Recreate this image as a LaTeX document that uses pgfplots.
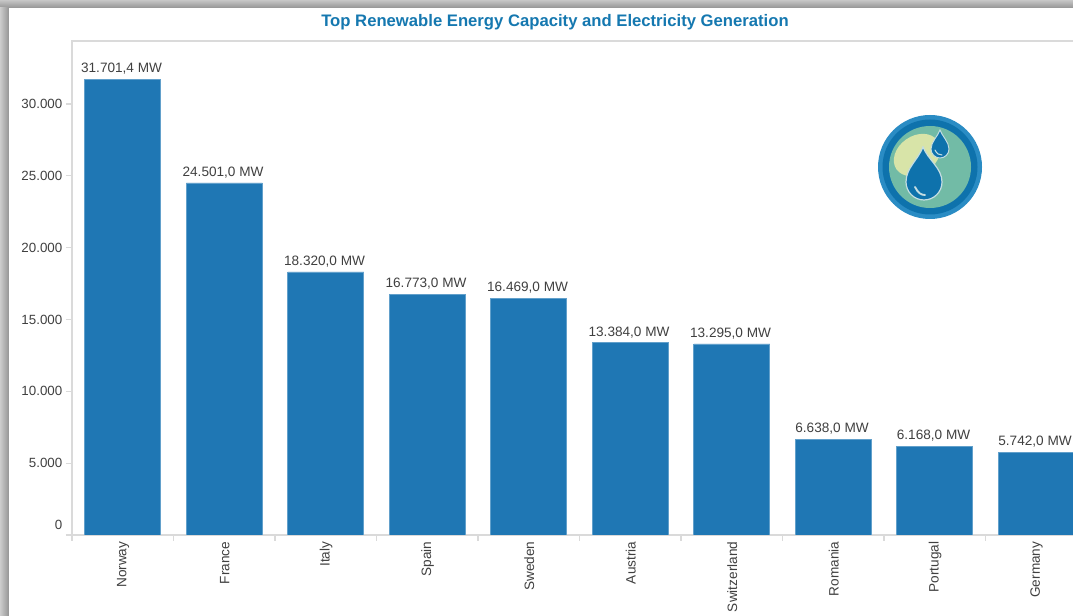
\documentclass[border=0pt]{standalone}
\usepackage{pgfplots}
\pgfplotsset{compat=1.18}
\usepackage{fontspec}
\setmainfont{Liberation Sans}
\definecolor{barblue}{HTML}{1F77B4}
\definecolor{titleblue}{HTML}{1578B0}
\definecolor{axisgrey}{HTML}{DADADA}
\definecolor{labelgrey}{HTML}{404040}
\definecolor{ringout}{HTML}{2A8CC4}
\definecolor{ringin}{HTML}{0E72AC}
\definecolor{dropfill}{HTML}{0E72AC}
\definecolor{discgreen}{HTML}{72BBA6}
\definecolor{paleyellow}{HTML}{D8E4A8}
\definecolor{dropedge}{HTML}{C4DDE2}
\pgfplotstableread{
idx capacity
0 31701.4
1 24501.0
2 18320.0
3 16773.0
4 16469.0
5 13384.0
6 13295.0
7 6638.0
8 6168.0
9 5742.0
}\capacitytable
\begin{document}
\begin{tikzpicture}
\useasboundingbox (0pt,0pt) rectangle (804.75pt,462pt);
\clip (0pt,0pt) rectangle (804.75pt,462pt);
\begin{scope}[x=0.75pt,y=0.75pt]
\fill[white] (0,0) rectangle (1073,616);
% panel shadow along the top and left edges
\shade[bottom color=black!42,top color=black!22] (0,608) rectangle (1073,616);
\shade[left color=black!20,right color=black!42] (0,0) rectangle (9,608);
\fill[white] (9,0) rectangle (1073,608);
\end{scope}
\begin{axis}[
  at={(54pt,60.75pt)},anchor=south west,
  scale only axis,
  width=756pt,height=370.5pt,
  xmin=-0.5,xmax=9.431,
  ymin=0,ymax=34385,
  axis lines=box,
  axis line style={axisgrey,line width=0.8pt},
  ybar,bar width=57pt,
  scaled y ticks=false,
  xtick={-0.5,0.5,1.5,2.5,3.5,4.5,5.5,6.5,7.5,8.5},
  xticklabels={},
  extra x ticks={0,...,9},
  extra x tick labels={Norway,France,Italy,Spain,Sweden,Austria,Switzerland,Romania,Portugal,Germany},
  extra x tick style={major tick length=0pt,
    xticklabel style={yshift=-1.5pt,xshift=0.3pt,rotate=90,anchor=east,font=\fontsize{10.2pt}{12pt}\selectfont,text=labelgrey}},
  x tick style={axisgrey,line width=0.8pt},
  xtick pos=bottom,
  ytick={5000,10000,15000,20000,25000,30000},
  yticklabels={5.000,10.000,15.000,20.000,25.000,30.000},
  ytick pos=left,
  y tick style={axisgrey,line width=0.8pt},
  major tick length=4.5pt,
  tick align=outside,
  yticklabel style={font=\fontsize{10pt}{12pt}\selectfont,text=labelgrey,inner xsep=2pt,xshift=-0.6pt},
  extra y ticks={0},
  extra y tick labels={0},
  extra y tick style={yticklabel style={yshift=7.5pt}},
  nodes near coords={\pgfmathprintnumber[fixed,fixed zerofill,precision=1,1000 sep={.},dec sep={,},assume math mode=true]{\pgfplotspointmeta} MW},
  nodes near coords style={font=\fontsize{10.2pt}{12pt}\selectfont,text=labelgrey,inner sep=0pt,above,yshift=3.5pt,xshift=-0.9pt},
  point meta=explicit,
  clip mode=individual,
  /pgf/number format/assume math mode=true,
]
\addplot[fill=barblue,draw=barblue!70!white,line width=0.4pt,bar shift=0pt] table[x=idx,y=capacity,meta=capacity] {\capacitytable};
\end{axis}
\begin{scope}[x=0.75pt,y=0.75pt]
\node[font=\bfseries\fontsize{12.5pt}{14pt}\selectfont,text=titleblue] at (555,593.5) {Top Renewable Energy Capacity and Electricity Generation};
% hydro power badge
\fill[ringout] (930,449) circle (52);
\fill[ringin] (930,449) circle (47.5);
\fill[discgreen] (930,449) circle (41);
\begin{scope}
\clip (930,449) circle (41);
\fill[paleyellow,rotate around={35:(917,461)}] (917,461) ellipse (25 and 19);
\end{scope}
\filldraw[fill=dropfill,draw=dropedge,line width=0.9pt]
  (923,469) .. controls (918,456) and (906,448) .. (906,434)
  arc[start angle=180,end angle=360,radius=18]
  .. controls (942,448) and (928,456) .. (923,469) -- cycle;
\draw[dropedge,line width=1.4pt,line cap=round] (915,429) .. controls (918,423) and (921,421) .. (925,421);
\filldraw[fill=dropfill,draw=dropedge,line width=0.7pt]
  (940,486) .. controls (938,480) and (931,474) .. (931,467)
  arc[start angle=180,end angle=360,radius=9]
  .. controls (949,474) and (942,480) .. (940,486) -- cycle;
\draw[dropedge,line width=0.8pt,line cap=round] (935,466) .. controls (937,462) and (939,461) .. (942,461);
\end{scope}
\end{tikzpicture}
\end{document}
